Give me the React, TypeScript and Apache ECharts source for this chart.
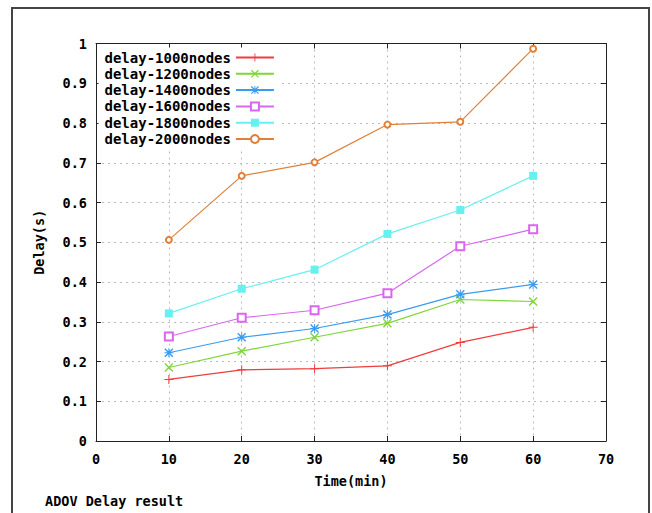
import React, { useEffect, useRef } from "react";
import * as echarts from "echarts";

const times = [10, 20, 30, 40, 50, 60];
const seriesNames = [
  "delay-1000nodes",
  "delay-1200nodes",
  "delay-1400nodes",
  "delay-1600nodes",
  "delay-1800nodes",
  "delay-2000nodes",
];
const d1000 = [0.155, 0.179, 0.182, 0.189, 0.248, 0.286];
const d1200 = [0.185, 0.226, 0.261, 0.296, 0.356, 0.351];
const d1400 = [0.222, 0.261, 0.283, 0.318, 0.369, 0.394];
const d1600 = [0.263, 0.31, 0.329, 0.372, 0.49, 0.533];
const d1800 = [0.321, 0.383, 0.431, 0.521, 0.581, 0.667];
const d2000 = [0.506, 0.667, 0.701, 0.796, 0.803, 0.987];
const allValues = [d1000, d1200, d1400, d1600, d1800, d2000];

const colors = ["#f03c3c", "#7fd63a", "#3a9cf0", "#d966f0", "#66f0f0", "#e0803a"];
const PLUS = "path://M4,0H5V4H9V5H5V9H4V5H0V4H4Z";
const CROSS = "path://M0,1L1,0L9,8L8,9ZM8,0L9,1L1,9L0,8Z";
const STAR = "path://M4,0H5V4H9V5H5V9H4V5H0V4H4ZM0,1L1,0L9,8L8,9ZM8,0L9,1L1,9L0,8Z";
const symbols = [PLUS, CROSS, STAR, "emptyRect", "rect", "emptyCircle"];
const symbolSizes = [9, 9, 9, 8, 8, 6];

const FONT = "'DejaVu Sans Mono', monospace";

export default function App() {
  const ref = useRef<HTMLDivElement>(null);
  useEffect(() => {
    if (!ref.current) return;
    const chart = echarts.init(ref.current, null, { renderer: "svg" });
    const labelStyle = {
      fontFamily: FONT,
      fontWeight: "bold" as const,
      fontSize: 13.5,
      color: "#000",
    };
    const splitLine = {
      show: true,
      lineStyle: { color: "#bbbbbb", width: 1, type: [2, 4] as any },
    };
    const axisLine = { show: true, onZero: false, lineStyle: { color: "#222", width: 1 } };
    const axisTick = { show: true, inside: true, length: 5, lineStyle: { color: "#222" } };
    chart.setOption({
      animation: false,
      backgroundColor: "#fff",
      title: {
        text: "ADOV Delay result",
        left: 45,
        top: 494,
        padding: 0,
        textStyle: { ...labelStyle },
      },
      graphic: [
        {
          type: "rect",
          shape: { x: 12, y: 8, width: 637, height: 600 },
          style: { fill: "none", stroke: "#444", lineWidth: 2 },
          z: 100,
        },
      ],
      grid: { left: 96, right: 46, top: 43.5, bottom: 72, containLabel: false },
      legend: {
        orient: "vertical",
        align: "right",
        left: 98.5,
        top: 47.5,
        padding: [3, 6, 3, 6],
        backgroundColor: "#fff",
        itemWidth: 38,
        itemHeight: 10,
        itemGap: 2.3,
        textStyle: { ...labelStyle, fontSize: 14, lineHeight: 14 },
        data: seriesNames,
        z: 10,
      },
      xAxis: [
        {
          type: "value",
          min: 0,
          max: 70,
          interval: 10,
          position: "bottom",
          name: "Time(min)",
          nameLocation: "middle",
          nameGap: 33,
          nameTextStyle: { ...labelStyle },
          axisLine,
          axisTick,
          axisLabel: { ...labelStyle, margin: 11 },
          splitLine,
        },
        {
          type: "value",
          min: 0,
          max: 70,
          interval: 10,
          position: "top",
          axisLine,
          axisTick,
          axisLabel: { show: false },
          splitLine: { show: false },
        },
      ],
      yAxis: [
        {
          type: "value",
          min: 0,
          max: 1,
          interval: 0.1,
          position: "left",
          name: "Delay(s)",
          nameLocation: "middle",
          nameGap: 50,
          nameTextStyle: { ...labelStyle },
          axisLine,
          axisTick,
          axisLabel: {
            ...labelStyle,
            margin: 9,
            formatter: (v: number) => (v === 0 ? "0" : v === 1 ? "1" : v.toFixed(1)),
          },
          splitLine,
        },
        {
          type: "value",
          min: 0,
          max: 1,
          interval: 0.1,
          position: "right",
          axisLine,
          axisTick,
          axisLabel: { show: false },
          splitLine: { show: false },
        },
      ],
      series: seriesNames.map((name, i) => ({
        name,
        type: "line",
        xAxisIndex: 0,
        yAxisIndex: 0,
        data: times.map((t, j) => [t, allValues[i][j]]),
        symbol: symbols[i],
        symbolSize: symbolSizes[i],
        symbolKeepAspect: true,
        showAllSymbol: true,
        color: colors[i],
        lineStyle: { color: colors[i], width: 1.2 },
        itemStyle: { color: colors[i], borderColor: colors[i], borderWidth: i === 3 || i === 5 ? 1.2 : 0 },
        emphasis: { disabled: true },
        z: 20 + i,
      })),
    });
    return () => chart.dispose();
  }, []);
  return (
    <div
      ref={ref}
      style={{ position: "fixed", left: 0, top: 0, width: 652, height: 513 }}
    />
  );
}
